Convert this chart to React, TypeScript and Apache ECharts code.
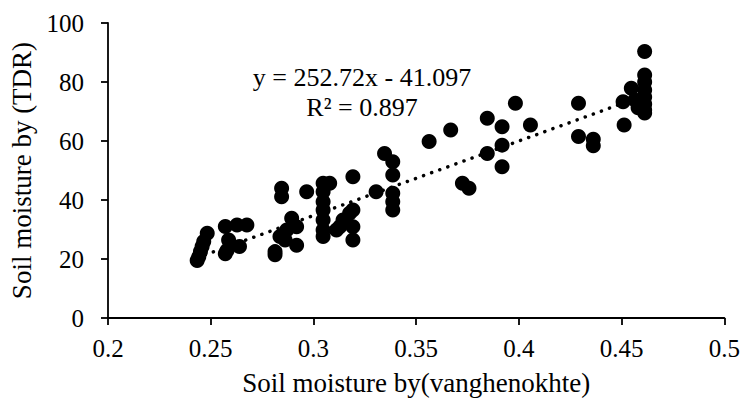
import React, { useEffect, useRef } from "react";
import * as echarts from "echarts";

const xValues: number[] = [
  0.2434, 0.2442, 0.245, 0.2458, 0.2466, 0.2483,
  0.2571, 0.2628, 0.2676, 0.2587, 0.2571, 0.264, 0.258,
  0.2845, 0.2845, 0.2894, 0.2918, 0.287, 0.2837, 0.2813, 0.2813, 0.2918, 0.2862,
  0.2967,
  0.3047, 0.3079, 0.3047, 0.3047, 0.3047, 0.3047, 0.3047, 0.3047,
  0.3112, 0.3128, 0.3144, 0.3176, 0.3192, 0.3192, 0.3192, 0.3192,
  0.3305,
  0.3346, 0.3386, 0.3386, 0.3386, 0.3386, 0.3386,
  0.3563, 0.3668, 0.3725, 0.3757,
  0.3846, 0.3846, 0.3918, 0.3918, 0.3918,
  0.3983, 0.4056,
  0.429, 0.429, 0.4362, 0.4362,
  0.4507, 0.4512, 0.4547, 0.4565, 0.458,
  0.4612, 0.4612, 0.4612, 0.4612, 0.4612, 0.4612, 0.4612, 0.4612,
];

const yValues: number[] = [
  19.5, 20.8, 22.5, 24.2, 25.9, 28.7,
  31.0, 31.5, 31.5, 26.4, 21.8, 24.2, 23.0,
  44.0, 41.1, 33.8, 30.9, 29.8, 27.6, 21.4, 22.5, 24.7, 26.4,
  42.8,
  45.7, 45.7, 42.8, 39.4, 36.6, 33.2, 29.8, 27.6,
  29.8, 30.9, 33.2, 35.5, 36.6, 30.9, 26.4, 47.9,
  42.8,
  55.8, 53.0, 48.5, 42.3, 39.4, 36.6,
  59.8, 63.7, 45.7, 44.0,
  67.7, 55.8, 64.8, 58.6, 51.3,
  72.8, 65.4,
  72.8, 61.5, 60.6, 58.4,
  73.3, 65.4, 77.9, 73.9, 71.3,
  90.3, 82.4, 80.0, 77.3, 74.9, 72.5, 70.5, 69.5,
];

const slope = 252.72;
const intercept = -41.097;
const rSquared = 0.897;

const xTicks = { min: 0.2, max: 0.5, interval: 0.05 };
const yTicks = { min: 0, max: 100, interval: 20 };

const xTitle = "Soil moisture by(vanghenokhte)";
const yTitle = "Soil moisture by (TDR)";

const FONT = "'Liberation Serif', 'Times New Roman', serif";

export default function App() {
  const ref = useRef<HTMLDivElement>(null);

  useEffect(() => {
    document.body.style.margin = "0";
    if (!ref.current) return;
    const chart = echarts.init(ref.current, undefined, { renderer: "svg" });
    const points = xValues.map((x, i) => [x, yValues[i]]);
    const xMin = Math.min(...xValues);
    const xMax = Math.max(...xValues);
    const trend = [
      [xMin, slope * xMin + intercept],
      [xMax, slope * xMax + intercept],
    ];
    const eq1 = `y = ${slope.toFixed(2)}x - ${Math.abs(intercept).toFixed(3)}`;
    const eq2 = `R² = ${rSquared.toFixed(3)}`;

    chart.setOption({
      animation: false,
      backgroundColor: "#ffffff",
      grid: { left: 107, right: 16, top: 23, bottom: 84, containLabel: false },
      xAxis: {
        type: "value",
        min: xTicks.min,
        max: xTicks.max,
        interval: xTicks.interval,
        name: xTitle,
        nameLocation: "middle",
        nameGap: 51,
        nameTextStyle: { fontFamily: FONT, fontSize: 27, color: "#000" },
        axisLine: { show: true, onZero: false, lineStyle: { color: "#000", width: 1.8 } },
        axisTick: { show: true, inside: false, length: 7, lineStyle: { color: "#000", width: 1.8 } },
        axisLabel: {
          fontFamily: FONT,
          fontSize: 25,
          color: "#000",
          margin: 18,
          formatter: (v: number) => String(parseFloat(v.toFixed(2))),
        },
        splitLine: { show: false },
      },
      yAxis: {
        type: "value",
        min: yTicks.min,
        max: yTicks.max,
        interval: yTicks.interval,
        name: yTitle,
        nameLocation: "middle",
        nameGap: 73,
        nameTextStyle: { fontFamily: FONT, fontSize: 27, color: "#000" },
        axisLine: { show: true, lineStyle: { color: "#000", width: 1.8 } },
        axisTick: { show: true, inside: false, length: 7, lineStyle: { color: "#000", width: 1.8 } },
        axisLabel: { fontFamily: FONT, fontSize: 25, color: "#000", margin: 24 },
        splitLine: { show: false },
      },
      graphic: [
        {
          type: "text",
          x: 362,
          y: 77,
          style: {
            text: eq1,
            fontFamily: FONT,
            fontSize: 26,
            fill: "#000",
            align: "center",
            verticalAlign: "middle",
          },
        },
        {
          type: "text",
          x: 362,
          y: 107,
          style: {
            text: eq2,
            fontFamily: FONT,
            fontSize: 26,
            fill: "#000",
            align: "center",
            verticalAlign: "middle",
          },
        },
      ],
      series: [
        {
          type: "scatter",
          data: points,
          symbol: "circle",
          symbolSize: 15,
          itemStyle: { color: "#000", opacity: 1 },
          z: 3,
        },
        {
          type: "line",
          data: trend,
          symbol: "none",
          lineStyle: { color: "#000", width: 3.5, type: [0.1, 8.5], cap: "round" },
          z: 2,
        },
      ],
    });
    return () => chart.dispose();
  }, []);

  return <div ref={ref} style={{ width: 743, height: 402 }} />;
}
